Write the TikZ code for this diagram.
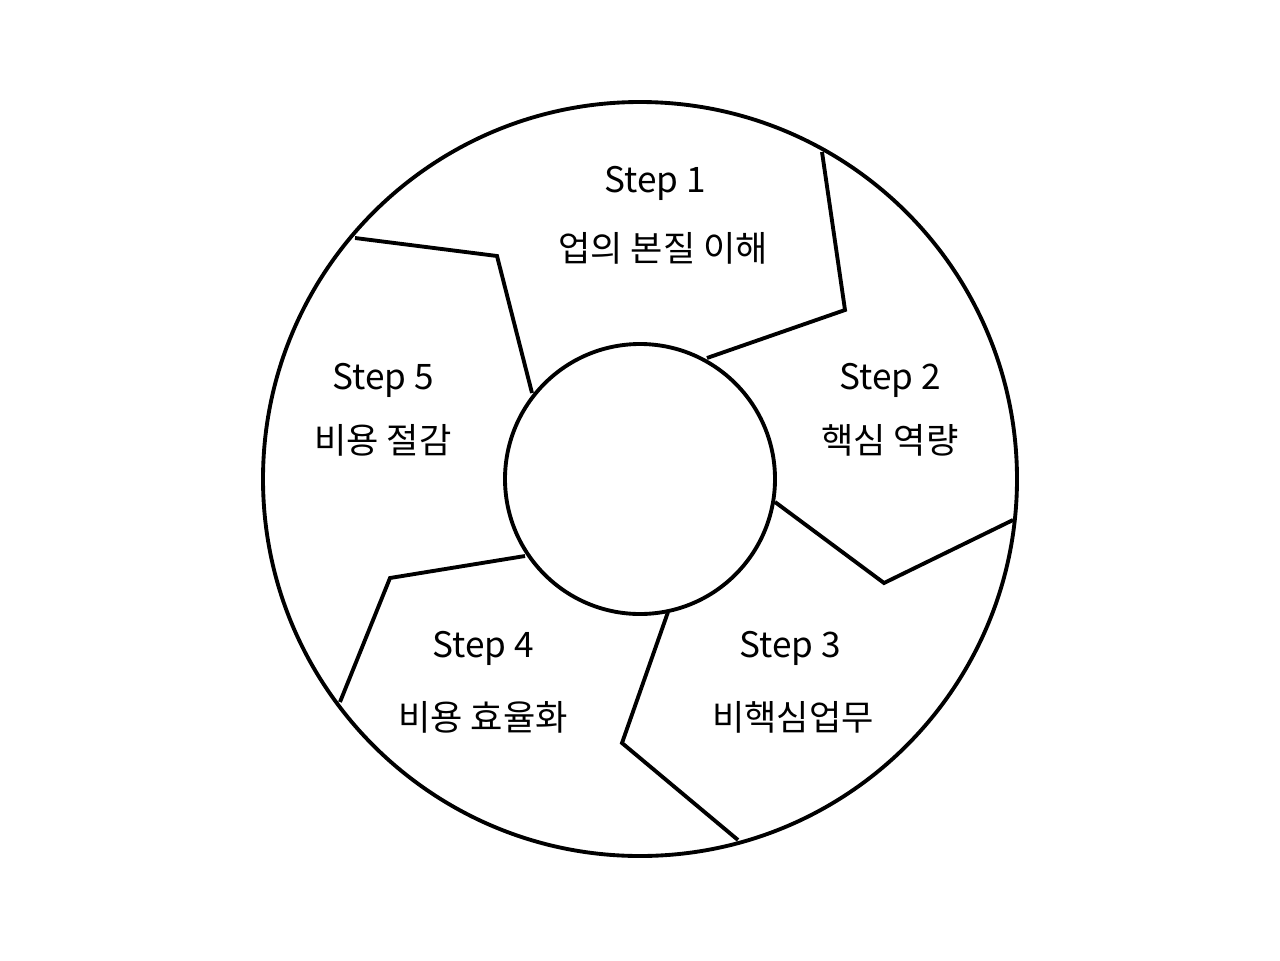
\documentclass[tikz,border=0pt]{standalone}
\usepackage{fontspec}
\newfontfamily\cjk{Noto Sans CJK KR}
\begin{document}
\begin{tikzpicture}[x=0.02cm,y=-0.02cm,
  ring/.style={line width=2.2pt,line join=miter},
  lbl/.style={font=\cjk\fontsize{20}{24}\selectfont,inner sep=0pt}]
\useasboundingbox (0,0) rectangle (1280,960);
\fill[white] (0,0) rectangle (1280,960);
\node[circle,draw,ring,minimum size=754*0.02cm,inner sep=0pt] (outer) at (640,479) {};
\node[circle,draw,ring,minimum size=270*0.02cm,inner sep=0pt] (inner) at (640,479) {};
% dividers
\draw[ring] (707,358) -- (845,310) -- (822,152);
\draw[ring] (775,502) -- (884,583) -- (1013,520);
\draw[ring] (668,612) -- (622,743) -- (738,840);
\draw[ring] (525,556) -- (390,578) -- (340,702);
\draw[ring] (532,393) -- (497,256) -- (355,238);
% labels
\node[lbl] (s1) at (655,183) {Step 1};
\node[lbl] (t1) at (663,248) {업의 본질 이해};
\node[lbl] (s2) at (890,380) {Step 2};
\node[lbl] (t2) at (890,440) {핵심 역량};
\node[lbl] (s3) at (790,648) {Step 3};
\node[lbl] (t3) at (793,717) {비핵심업무};
\node[lbl] (s4) at (483,648) {Step 4};
\node[lbl] (t4) at (483,717) {비용 효율화};
\node[lbl] (s5) at (383,380) {Step 5};
\node[lbl] (t5) at (383,440) {비용 절감};
\end{tikzpicture}
\end{document}
